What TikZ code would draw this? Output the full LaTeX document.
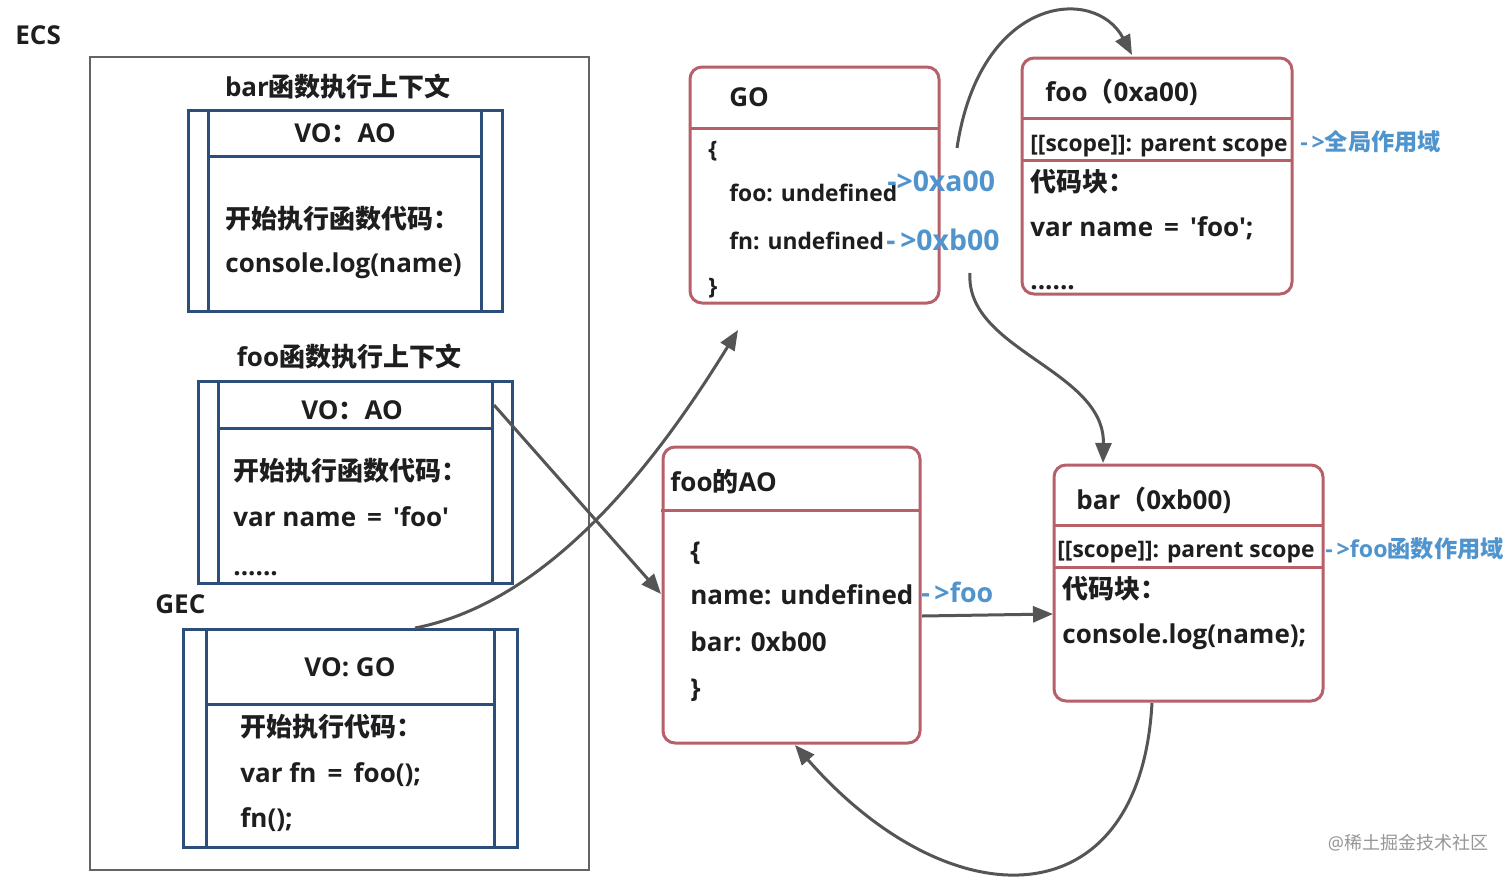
\documentclass[tikz,border=0pt]{standalone}
\usepackage{fontspec}
\setmainfont{Open Sans}[Ligatures=TeXOff]
\newfontfamily\cjk{Noto Sans CJK SC}
\usetikzlibrary{arrows.meta,fit}
\definecolor{boxblue}{RGB}{44,78,122}
\definecolor{boxred}{RGB}{184,96,106}
\definecolor{arrowgray}{RGB}{85,85,85}
\definecolor{framegray}{RGB}{100,100,100}
\definecolor{noteblue}{RGB}{80,148,205}
\definecolor{ink}{RGB}{30,30,30}
\definecolor{wmgray}{RGB}{150,150,150}
\tikzset{
 bluebox/.style={draw=boxblue, line width=1.5pt, inner sep=0pt},
 blueline/.style={draw=boxblue, line width=1.5pt},
 redbox/.style={draw=boxred, line width=1.5pt, rounded corners=6pt, inner sep=0pt},
 redline/.style={draw=boxred, line width=1.5pt},
 framebox/.style={draw=framegray, line width=1.3pt, inner sep=0pt},
 txt/.style={inner sep=0pt, yshift=-2pt, text=ink, font=\bfseries\fontsize{13}{15}\selectfont},
 gotxt/.style={inner sep=0pt, yshift=-2pt, text=ink, font=\bfseries\fontsize{11.4}{14}\selectfont},
 scopetxt/.style={inner sep=0pt, yshift=-2pt, text=ink, font=\bfseries\fontsize{11.4}{13}\selectfont},
 notetxt/.style={inner sep=0pt, yshift=-2pt, text=noteblue, font=\bfseries\fontsize{14.2}{16}\selectfont},
 notesmall/.style={inner sep=0pt, yshift=-2pt, text=noteblue, font=\bfseries\fontsize{11.6}{13}\selectfont},
 conn/.style={draw=arrowgray, line width=1.5pt, -{Triangle[length=10pt,width=8pt]}},
}
\begin{document}
\begin{tikzpicture}[x=0.5pt,y=-0.5pt]
\fill[white] (0,0) rectangle (1512,879);
\useasboundingbox (0,0) rectangle (1512,879);

% ECS frame
\node[txt, anchor=mid west] (ecslabel) at (15,35) {ECS};
\node[framebox, fit={(90,57) (589,870)}] (ecs) {};

% bar context
\node[txt, anchor=mid] (bartitle) at (338,87) {bar{\cjk 函数执行上下文}};
\node[bluebox, fit={(188,110) (502,311)}] (barctx) {};
\draw[blueline] (208,110) -- (208,311) (481,110) -- (481,311) (208,156) -- (481,156);
\node[txt, anchor=mid] (barvo) at (345,133) {VO{\cjk ：}AO};
\node[txt, anchor=mid west] (barl1) at (225,219) {{\cjk 开始执行函数代码：}};
\node[txt, anchor=mid west] (barl2) at (225,263) {console.log(name)};

% foo context
\node[txt, anchor=mid] (footitle) at (349,357) {foo{\cjk 函数执行上下文}};
\node[bluebox, fit={(198,381) (512,583)}] (fooctx) {};
\draw[blueline] (218,381) -- (218,583) (492,381) -- (492,583) (218,428) -- (492,428);
\node[txt, anchor=mid] (foovo) at (352,410) {VO{\cjk ：}AO};
\node[txt, anchor=mid west] (fool1) at (233,471) {{\cjk 开始执行函数代码：}};
\node[txt, anchor=mid west] (fool2) at (233,517) {var name\, =\, 'foo'};
\node[txt, anchor=mid west] (fool3) at (233,566) {......};

% GEC
\node[txt, anchor=mid west] (geclabel) at (155,604) {GEC};
\node[bluebox, fit={(183,629) (517,847)}] (gec) {};
\draw[blueline] (206,629) -- (206,847) (494,629) -- (494,847) (206,704) -- (494,704);
\node[txt, anchor=mid] (gecvo) at (350,667) {VO: GO};
\node[txt, anchor=mid west] (gecl1) at (240,727) {{\cjk 开始执行代码：}};
\node[txt, anchor=mid west] (gecl2) at (240,773) {var fn\, =\, foo();};
\node[txt, anchor=mid west] (gecl3) at (240,818) {fn();};

% GO
\node[redbox, fit={(690,67) (939,303)}] (go) {};
\draw[redline] (690,128) -- (939,128);
\node[txt, anchor=mid west] (gohead) at (729,97) {GO};
\node[gotxt, anchor=mid west] (gob1) at (708,148) {\{};
\node[gotxt, anchor=mid west] (gofoo) at (729,192) {foo: undefined};
\node[gotxt, anchor=mid west] (gofn) at (729,240) {fn: undefined};
\node[gotxt, anchor=mid west] (gob2) at (708,285) {\}};
\node[notetxt, anchor=mid west] (goa) at (887,182) {->0xa00};
\node[notetxt, anchor=mid west] (gob) at (886,241) {-\,>0xb00};

% foo (0xa00)
\node[redbox, fit={(1022,58) (1292,294)}] (foofn) {};
\draw[redline] (1022,118) -- (1292,118) (1022,160) -- (1292,160);
\node[txt, anchor=mid west] (foofnhead) at (1045,92) {foo{\cjk （}0xa00)};
\node[scopetxt, anchor=mid west] (foofnscope) at (1030,142) {[[scope]]: parent scope};
\node[notesmall, anchor=mid west] (foofnnote) at (1300,141) {-\,>{\cjk 全局作用域}};
\node[txt, anchor=mid west] (foofnl1) at (1030,182) {{\cjk 代码块：}};
\node[txt, anchor=mid west] (foofnl2) at (1030,227) {var name\, =\, 'foo';};
\node[txt, anchor=mid west] (foofnl3) at (1030,280) {......};

% bar (0xb00)
\node[redbox, fit={(1054,465) (1323,701)}] (barfn) {};
\draw[redline] (1054,525) -- (1323,525) (1054,567) -- (1323,567);
\node[txt, anchor=mid west] (barfnhead) at (1076,500) {bar{\cjk （}0xb00)};
\node[scopetxt, anchor=mid west] (barfnscope) at (1057,548) {[[scope]]: parent scope};
\node[notesmall, anchor=mid west] (barfnnote) at (1325,548) {-\,>foo{\cjk 函数作用域}};
\node[txt, anchor=mid west] (barfnl1) at (1062,589) {{\cjk 代码块：}};
\node[txt, anchor=mid west] (barfnl2) at (1062,634) {console.log(name);};

% foo AO
\node[redbox, fit={(663,447) (920,743)}] (fooao) {};
\draw[redline] (661,510) -- (920,510);
\node[txt, anchor=mid west] (fooaohead) at (670,482) {foo{\cjk 的}AO};
\node[txt, anchor=mid west] (fooaob1) at (690,551) {\{};
\node[txt, anchor=mid west] (fooaoname) at (690,595) {name: undefined};
\node[txt, anchor=mid west] (fooaobar) at (690,642) {bar: 0xb00};
\node[txt, anchor=mid west] (fooaob2) at (690,688) {\}};
\node[notetxt, font=\bfseries\fontsize{13.4}{15}\selectfont, anchor=mid west] (fooaonote) at (921,593) {-\,>foo};

% watermark
\node[inner sep=0pt, text=wmgray, font=\fontsize{9}{11}\selectfont, anchor=mid] (wm) at (1408,844) {@{\cjk 稀土掘金技术社区}};

% connector end points
\coordinate (gecout) at (415,628);
\coordinate (goin) at (738,330);
\coordinate (fooctxout) at (494,405);
\coordinate (fooaoin) at (661,594);
\coordinate (goaout) at (957,148);
\coordinate (foofnin) at (1132,55);
\coordinate (gobout) at (970,273);
\coordinate (barfnin) at (1103,463);
\coordinate (fooaoout) at (922,616);
\coordinate (barfnleft) at (1053,614);
\coordinate (barfnout) at (1152,703);
\coordinate (fooaobot) at (795,745);

% connectors
\draw[conn] (gecout) .. controls (560,600) and (670,440) .. (goin);
\draw[conn] (fooctxout) -- (fooaoin);
\draw[conn] (goaout) .. controls (980,-5) and (1095,-15) .. (foofnin);
\draw[conn] (gobout) .. controls (965,350) and (1105,370) .. (barfnin);
\draw[conn] (fooaoout) -- (barfnleft);
\draw[conn] (barfnout) .. controls (1140,922) and (950,922) .. (fooaobot);
\end{tikzpicture}
\end{document}
